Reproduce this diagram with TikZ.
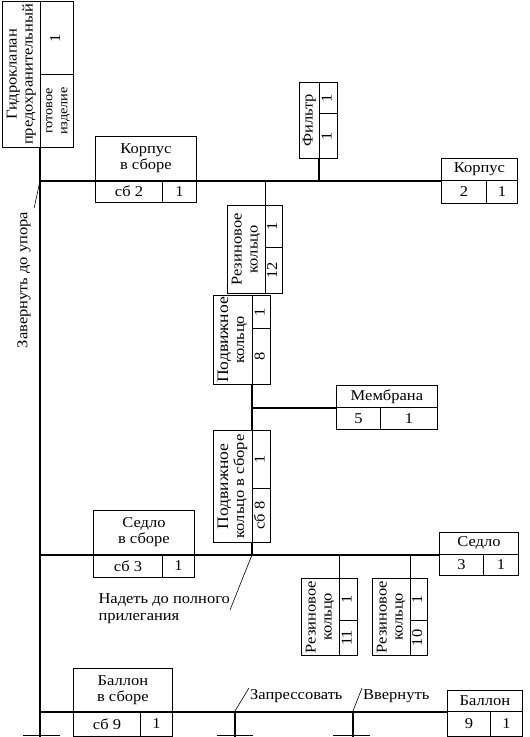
\documentclass[tikz,border=0pt]{standalone}
\usepackage{fontspec}
\setmainfont[FakeStretch=1.1]{Liberation Serif}
\usepackage{graphicx}
\newcommand{\vtext}[1]{\rotatebox{90}{\begin{tabular}{@{}c@{}}#1\end{tabular}}}
\newcommand{\bigline}{\fontsize{16}{16}\selectfont}
\tikzset{
  cell/.style={draw, rectangle, line width=0.8pt, inner sep=0pt, anchor=north west,
    font=\fontsize{15}{16}\selectfont, align=center},
  mainline/.style={line width=1.6pt},
  conn/.style={line width=1.2pt},
  branch/.style={line width=0.9pt},
  leader/.style={line width=0.6pt},
  note/.style={font=\fontsize{15}{17}\selectfont}
}
\begin{document}
\begin{tikzpicture}[x=1pt,y=-1pt]
\useasboundingbox (0,0) rectangle (530,737);
% Hydro valve (finished product)
\node[cell, minimum width=38, minimum height=146] (gk-name) at (2,1) {\vtext{Гидроклапан\\предохранительный}};
\node[cell, minimum width=33, minimum height=73] (gk-qty) at (40,1) {\vtext{1}};
\node[cell, minimum width=33, minimum height=73, font=\fontsize{13}{15}\selectfont] (gk-note) at (40,74) {\vtext{готовое\\изделие}};
% Korpus v sbore
\node[cell, minimum width=101, minimum height=44] (kvs-name) at (95,136) {Корпус\\в сборе};
\node[cell, minimum width=67, minimum height=22] (kvs-num) at (95,180) {сб 2};
\node[cell, minimum width=34, minimum height=22] (kvs-qty) at (162,180) {1};
% Filter
\node[cell, minimum width=20, minimum height=76] (flt-name) at (299,82) {\vtext{Фильтр}};
\node[cell, minimum width=18, minimum height=31] (flt-qty) at (319,82) {\vtext{1}};
\node[cell, minimum width=18, minimum height=45] (flt-num) at (319,113) {\vtext{1}};
% Korpus
\node[cell, minimum width=76, minimum height=22] (kor-name) at (441,158) {Корпус};
\node[cell, minimum width=45, minimum height=23] (kor-num) at (441,180) {2};
\node[cell, minimum width=31, minimum height=23] (kor-qty) at (486,180) {1};
% Rubber ring 12
\node[cell, minimum width=38, minimum height=88] (r12-name) at (227,205) {\vtext{Резиновое\\кольцо}};
\node[cell, minimum width=17, minimum height=42] (r12-qty) at (265,205) {\vtext{1}};
\node[cell, minimum width=17, minimum height=46] (r12-num) at (265,247) {\vtext{12}};
% Movable ring 8
\node[cell, minimum width=39, minimum height=89] (pk-name) at (213,295) {\vtext{\bigline Подвижное\\кольцо}};
\node[cell, minimum width=18, minimum height=33] (pk-qty) at (252,295) {\vtext{1}};
\node[cell, minimum width=18, minimum height=56] (pk-num) at (252,328) {\vtext{8}};
% Membrane
\node[cell, minimum width=101, minimum height=22] (mem-name) at (336,385) {Мембрана};
\node[cell, minimum width=44, minimum height=22] (mem-num) at (336,407) {5};
\node[cell, minimum width=57, minimum height=22] (mem-qty) at (380,407) {1};
% Movable ring assembly
\node[cell, minimum width=39, minimum height=112] (pks-name) at (213,430) {\vtext{\bigline Подвижное\\кольцо в сборе}};
\node[cell, minimum width=18, minimum height=58] (pks-qty) at (252,430) {\vtext{1}};
\node[cell, minimum width=18, minimum height=54] (pks-num) at (252,488) {\vtext{сб 8}};
% Sedlo v sbore
\node[cell, minimum width=101, minimum height=44] (sv-name) at (93,510) {Седло\\в сборе};
\node[cell, minimum width=69, minimum height=23] (sv-num) at (93,554) {сб 3};
\node[cell, minimum width=32, minimum height=23] (sv-qty) at (162,554) {1};
% Sedlo
\node[cell, minimum width=79, minimum height=22] (sed-name) at (439,532) {Седло};
\node[cell, minimum width=44, minimum height=21] (sed-num) at (439,554) {3};
\node[cell, minimum width=35, minimum height=21] (sed-qty) at (483,554) {1};
% Rubber rings 11 and 10
\node[cell, minimum width=38, minimum height=77] (r11-name) at (301,578) {\vtext{Резиновое\\кольцо}};
\node[cell, minimum width=18, minimum height=42] (r11-qty) at (339,578) {\vtext{1}};
\node[cell, minimum width=18, minimum height=35] (r11-num) at (339,620) {\vtext{11}};
\node[cell, minimum width=38, minimum height=77] (r10-name) at (372,578) {\vtext{Резиновое\\кольцо}};
\node[cell, minimum width=17, minimum height=42] (r10-qty) at (410,578) {\vtext{1}};
\node[cell, minimum width=17, minimum height=35] (r10-num) at (410,620) {\vtext{10}};
% Ballon v sbore
\node[cell, minimum width=99, minimum height=43] (bvs-name) at (73,668) {Баллон\\в сборе};
\node[cell, minimum width=67, minimum height=25] (bvs-num) at (73,711) {сб 9};
\node[cell, minimum width=32, minimum height=25] (bvs-qty) at (140,711) {1};
% Ballon
\node[cell, minimum width=75, minimum height=21] (bal-name) at (447,690) {Баллон};
\node[cell, minimum width=43, minimum height=25] (bal-num) at (447,711) {9};
\node[cell, minimum width=32, minimum height=25] (bal-qty) at (490,711) {1};
% Notes
\node[note, rotate=90] (zav) at (24,280) {Завернуть до упора};
\node[note, anchor=north west, align=left] (nad) at (95,590) {Надеть до полного\\прилегания};
\node[note, anchor=north west, inner sep=1pt] (zap-txt) at (249,688) {Запрессовать};
\node[note, anchor=north west, inner sep=1pt] (vvr-txt) at (362,688) {Ввернуть};
\coordinate (bot) at (40,737);
\coordinate (nad-tip) at (230,610);
\coordinate (zap) at (235,711);
\coordinate (vvr) at (353,711);
% Main vertical line
\draw[mainline] (gk-note.south west) -- (bot);
% Line of korpus
\draw[mainline] (bot |- kor-name.south west) -- (kor-name.south west);
\draw[conn] (flt-num.south west) -- (flt-num.south west |- kor-name.south west);
\draw[branch] (r12-qty.north west) -- (r12-qty.north west |- kor-name.south west);
% Movable ring line
\draw[conn] (pk-num.south west) -- (pks-qty.north west);
\draw[mainline] (pk-num.south west |- mem-name.south west) -- (mem-name.south west);
% Line of sedlo
\draw[mainline] (bot |- sed-name.south west) -- (sed-name.south west);
\draw[conn] (pks-num.south west) -- (pks-num.south west |- sed-name.south west);
\draw[branch] (r11-qty.north west) -- (r11-qty.north west |- sed-name.south west);
\draw[branch] (r10-qty.north west) -- (r10-qty.north west |- sed-name.south west);
% Line of ballon
\draw[mainline] (bot |- bal-name.south west) -- (bal-name.south west);
\draw[conn] (zap) -- (zap |- bot);
\draw[conn] (vvr) -- (vvr |- bot);
\draw[branch] (217,735) -- (253,735);
\draw[branch] (333,735) -- (370,735);
\draw[branch] (23,735) -- (60,735);
% Leaders
\draw[leader] (bot |- kor-name.south west) -- (zav.south east);
\draw[leader] (pks-num.south west |- sed-name.south west) -- (nad-tip);
\draw[leader] (zap) -- (zap-txt.north west);
\draw[leader] (vvr) -- (vvr-txt.north west);
\end{tikzpicture}
\end{document}
